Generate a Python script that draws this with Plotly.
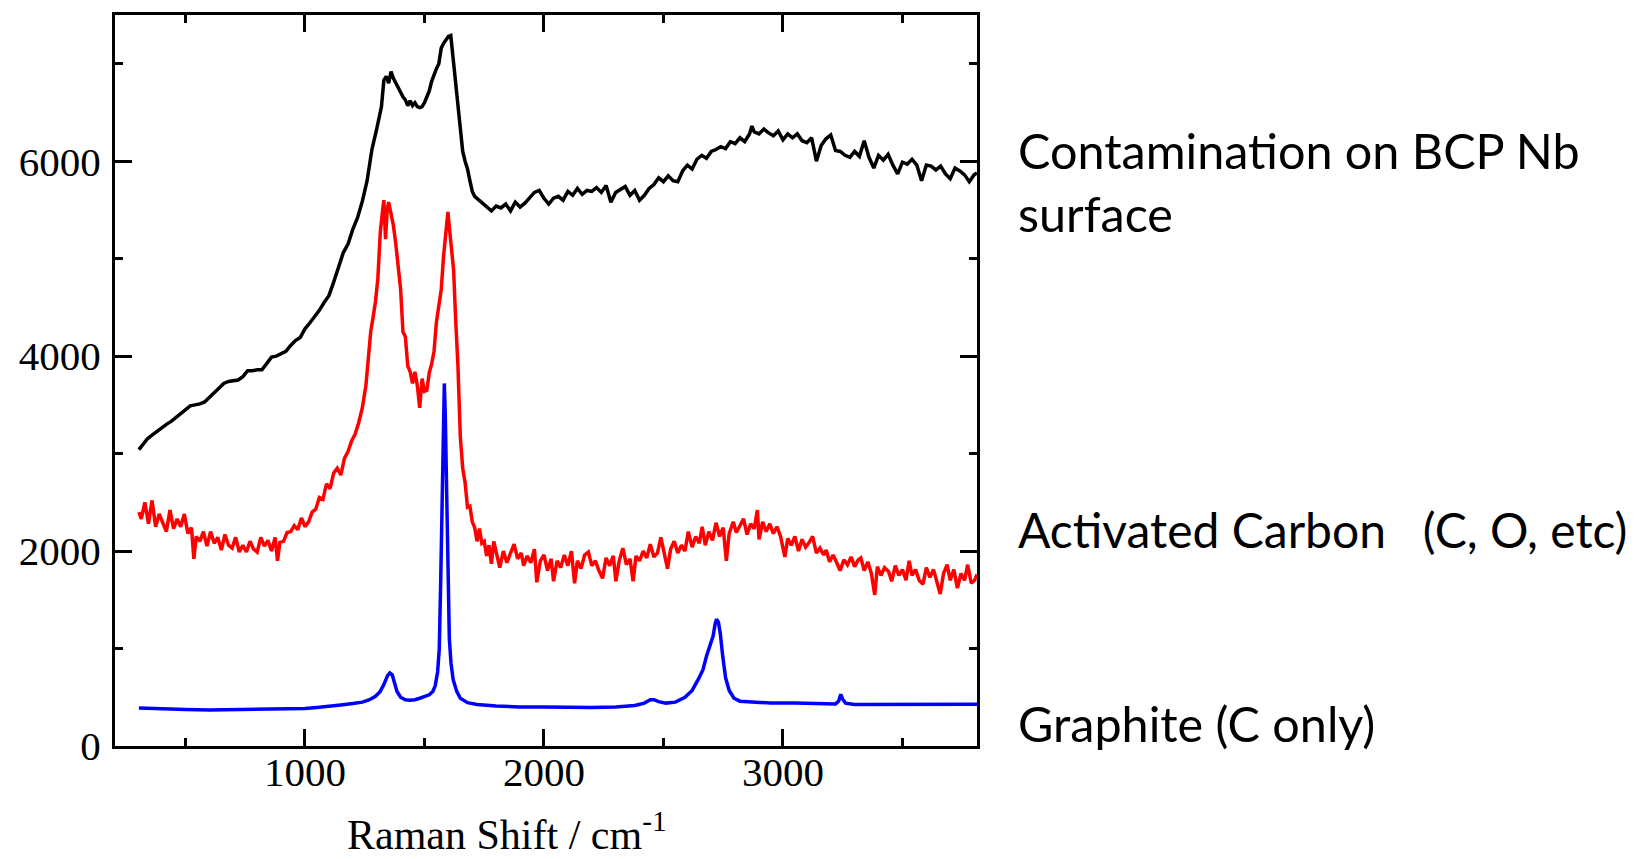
import plotly.graph_objects as go

# ---------------- data ----------------
black_x = [305, 320, 340, 360, 380, 400, 420, 440, 460, 480, 500, 520, 540, 560, 580, 600, 620, 640, 660, 680,
           700, 720, 740, 760, 780, 800, 820, 840, 860, 880, 900, 920, 940, 960, 980, 1000, 1020, 1040, 1060, 1080,
           1100, 1120, 1140, 1160, 1180, 1200, 1220, 1240, 1260, 1280, 1300, 1320, 1330, 1340, 1350, 1360, 1370, 1380, 1390, 1400,
           1410, 1420, 1430, 1440, 1450, 1460, 1470, 1480, 1490, 1500, 1510, 1520, 1530, 1540, 1550, 1560, 1570, 1580, 1590, 1600,
           1610, 1620, 1630, 1640, 1650, 1660, 1670, 1680, 1690, 1700, 1710, 1720, 1740, 1760, 1780, 1800, 1820, 1840, 1860, 1880,
           1900, 1920, 1940, 1960, 1980, 2000, 2020, 2040, 2060, 2080, 2100, 2120, 2140, 2160, 2180, 2200, 2220, 2240, 2260, 2280,
           2300, 2320, 2340, 2360, 2380, 2400, 2420, 2440, 2460, 2480, 2500, 2520, 2540, 2560, 2580, 2600, 2620, 2640, 2660, 2680,
           2700, 2720, 2740, 2760, 2780, 2800, 2820, 2840, 2860, 2870, 2880, 2900, 2920, 2940, 2960, 2980, 3000, 3020, 3040, 3060,
           3080, 3100, 3120, 3140, 3160, 3180, 3200, 3220, 3240, 3260, 3280, 3300, 3320, 3340, 3360, 3380, 3400, 3420, 3440, 3460,
           3480, 3500, 3520, 3540, 3560, 3580, 3600, 3620, 3640, 3660, 3680, 3700, 3720, 3740, 3760, 3780, 3800, 3812]
black_y = [3040, 3090, 3150, 3190, 3230, 3270, 3300, 3330, 3370, 3400, 3440, 3490, 3500, 3510, 3530, 3580, 3630, 3680, 3720, 3740,
           3750, 3755, 3790, 3850, 3850, 3860, 3860, 3930, 3990, 4000, 4030, 4050, 4110, 4160, 4190, 4280, 4340, 4400, 4470, 4550,
           4620, 4760, 4900, 5060, 5150, 5300, 5420, 5590, 5800, 6120, 6330, 6560, 6830, 6870, 6800, 6920, 6850, 6800, 6750, 6720,
           6660, 6630, 6570, 6620, 6570, 6600, 6560, 6550, 6560, 6600, 6650, 6720, 6820, 6890, 6950, 7000, 7160, 7210, 7240, 7280,
           7290, 7050, 6800, 6560, 6380, 6100, 6000, 5920, 5800, 5690, 5640, 5620, 5570, 5540, 5490, 5540, 5520, 5560, 5490, 5580,
           5530, 5570, 5620, 5680, 5700, 5620, 5560, 5620, 5640, 5600, 5690, 5650, 5720, 5660, 5700, 5690, 5730, 5680, 5750, 5580,
           5680, 5710, 5740, 5650, 5700, 5600, 5650, 5720, 5760, 5830, 5790, 5850, 5800, 5790, 5900, 5960, 5920, 6020, 6060, 6030,
           6100, 6120, 6150, 6130, 6200, 6180, 6240, 6200, 6280, 6360, 6300, 6280, 6330, 6290, 6260, 6310, 6220, 6280, 6240, 6280,
           6210, 6190, 6240, 6000, 6160, 6230, 6270, 6110, 6100, 6060, 6040, 6100, 6050, 6210, 6040, 5930, 6060, 6010, 6070, 5960,
           5870, 5990, 5970, 6020, 5960, 5800, 5960, 5950, 5910, 5950, 5870, 5820, 5930, 5900, 5860, 5790, 5860, 5880]

red_x = [305, 315, 330, 345, 360, 375, 390, 405, 420, 435, 450, 465, 480, 495, 510, 525, 535, 545, 560, 575,
         590, 605, 620, 635, 650, 665, 680, 695, 710, 725, 740, 755, 770, 785, 800, 815, 830, 845, 860, 875,
         885, 895, 910, 925, 940, 955, 970, 985, 1000, 1015, 1030, 1045, 1060, 1075, 1090, 1105, 1120, 1135, 1150, 1165,
         1180, 1195, 1210, 1225, 1240, 1255, 1265, 1275, 1285, 1295, 1305, 1315, 1325, 1330, 1337, 1344, 1350, 1360, 1370, 1380,
         1390, 1400, 1410, 1420, 1430, 1440, 1450, 1460, 1470, 1480, 1490, 1500, 1510, 1520, 1530, 1540, 1550, 1560, 1570, 1580,
         1590, 1598, 1607, 1615, 1622, 1630, 1640, 1650, 1660, 1670, 1680, 1690, 1700, 1710, 1720, 1730, 1740, 1750, 1760, 1770,
         1780, 1790, 1800, 1815, 1830, 1845, 1860, 1875, 1890, 1905, 1915, 1930, 1945, 1960, 1970, 1985, 2000, 2015, 2030, 2040,
         2055, 2070, 2085, 2100, 2115, 2128, 2140, 2155, 2170, 2186, 2200, 2215, 2230, 2245, 2260, 2275, 2290, 2301, 2315, 2330,
         2345, 2360, 2373, 2385, 2400, 2415, 2430, 2445, 2460, 2475, 2489, 2505, 2517, 2530, 2545, 2560, 2575, 2590, 2604, 2620,
         2635, 2650, 2662, 2675, 2690, 2705, 2720, 2735, 2750, 2763, 2775, 2792, 2805, 2820, 2835, 2850, 2865, 2880, 2893, 2900,
         2915, 2930, 2945, 2960, 2975, 2990, 3008, 3020, 3035, 3050, 3065, 3080, 3095, 3110, 3124, 3140, 3155, 3170, 3181, 3195,
         3210, 3225, 3239, 3255, 3270, 3285, 3300, 3315, 3326, 3340, 3355, 3370, 3384, 3395, 3410, 3425, 3442, 3455, 3470, 3485,
         3500, 3515, 3528, 3540, 3555, 3570, 3586, 3600, 3615, 3630, 3645, 3658, 3672, 3687, 3700, 3715, 3730, 3745, 3760, 3773,
         3788, 3802, 3812]
red_y = [2400, 2330, 2500, 2280, 2520, 2250, 2380, 2300, 2200, 2420, 2230, 2330, 2250, 2380, 2180, 2240, 1920, 2150, 2100, 2200,
         2050, 2200, 2080, 2140, 2010, 2170, 2060, 2030, 2140, 1990, 2060, 1990, 2100, 2020, 1990, 2140, 2050, 2110, 2000, 2140,
         1900, 2090, 2100, 2190, 2200, 2260, 2220, 2340, 2250, 2300, 2400, 2430, 2550, 2530, 2690, 2640, 2800, 2850, 2780, 2950,
         3020, 3130, 3200, 3320, 3470, 3700, 4000, 4250, 4400, 4560, 4800, 5270, 5500, 5600, 5200, 5500, 5580, 5450, 5340, 5150,
         4900, 4690, 4250, 4200, 3900, 3840, 3720, 3840, 3700, 3470, 3770, 3640, 3650, 3830, 3920, 4050, 4350, 4500, 4680, 5030,
         5300, 5480, 5250, 5050, 4880, 4400, 3900, 3170, 2850, 2700, 2450, 2460, 2300, 2240, 2100, 2230, 2080, 2100, 1950, 2060,
         1870, 2100, 1980, 1830, 2000, 1880, 1980, 2070, 1920, 1980, 1850, 1950, 1880, 2020, 1680, 1900, 1960, 1800, 1920, 1690,
         1900, 1830, 1960, 1850, 2000, 1670, 1900, 1820, 1960, 1990, 1850, 1900, 1800, 1720, 1930, 1850, 1950, 1690, 1900, 2030,
         1860, 1920, 1690, 1950, 1900, 2000, 1930, 2070, 1940, 1980, 2140, 1940, 1820, 2020, 2100, 1980, 2060, 2000, 2200, 2040,
         2150, 2080, 2250, 2060, 2200, 2110, 2290, 2150, 2240, 1900, 2180, 2300, 2190, 2260, 2330, 2170, 2280, 2230, 2420, 2120,
         2300, 2200, 2280, 2180, 2250, 2150, 1940, 2130, 2060, 2150, 2000, 2120, 2040, 2090, 2150, 1980, 2030, 1960, 2010, 1890,
         1960, 1880, 1800, 1910, 1860, 1940, 1840, 1910, 1930, 1800, 1890, 1770, 1550, 1840, 1750, 1830, 1790, 1690, 1850, 1750,
         1810, 1700, 1900, 1750, 1810, 1700, 1660, 1830, 1730, 1810, 1670, 1560, 1770, 1860, 1700, 1810, 1620, 1770, 1700, 1860,
         1670, 1700, 1760]

blue_x = [305, 400, 500, 600, 700, 800, 900, 1000, 1050, 1100, 1150, 1200, 1240, 1270, 1295, 1315, 1330, 1345, 1355, 1365,
          1375, 1385, 1400, 1420, 1440, 1460, 1480, 1500, 1520, 1535, 1545, 1555, 1562, 1568, 1574, 1579, 1583, 1587, 1592, 1598,
          1604, 1611, 1620, 1635, 1650, 1680, 1720, 1800, 1900, 2000, 2100, 2200, 2300, 2380, 2420, 2445, 2460, 2480, 2510, 2550,
          2590, 2620, 2645, 2665, 2680, 2695, 2708, 2716, 2722, 2730, 2738, 2748, 2760, 2775, 2795, 2820, 2870, 2950, 3050, 3150,
          3220, 3233, 3242, 3250, 3262, 3300, 3400, 3500, 3600, 3700, 3812]
blue_y = [390, 380, 375, 370, 372, 375, 378, 385, 395, 405, 420, 435, 450, 475, 510, 560, 630, 720, 750, 730,
          650, 560, 500, 475, 470, 475, 490, 505, 525, 560, 620, 760, 1000, 1700, 2600, 3400, 3720, 3400, 2600, 1700,
          1100, 850, 680, 560, 490, 445, 425, 410, 400, 400, 395, 395, 400, 415, 440, 475, 475, 455, 440, 450,
          500, 570, 680, 780, 920, 1050, 1130, 1250, 1300, 1270, 1150, 920, 700, 570, 490, 460, 450, 440, 440, 432,
          432, 460, 530, 480, 440, 425, 425, 428, 426, 428, 428]

label_texts = ["Contamination on BCP Nb<br>surface",
               "Activated Carbon\u00a0\u00a0\u00a0(C, O, etc)",
               "Graphite (C only)"]
x_title = "Raman Shift / cm<sup>-1</sup>"

# ---------------- layout geometry (pixels) ----------------
W, H = 1641, 859
L, R, T, B = 115, 977, 12, 746   # plot area edges in pixels


def px_to_paper(px, py):
    return (px - L) / (R - L), (B - py) / (B - T)


fig = go.Figure()
fig.add_trace(go.Scatter(x=black_x, y=black_y, mode="lines",
                         line=dict(color="#000000", width=3.5), showlegend=False))
fig.add_trace(go.Scatter(x=red_x, y=red_y, mode="lines",
                         line=dict(color="#FF0000", width=3.5), showlegend=False))
fig.add_trace(go.Scatter(x=blue_x, y=blue_y, mode="lines",
                         line=dict(color="#0000FF", width=3.5), showlegend=False))

tickfont = dict(family="Liberation Serif", size=41, color="#000000")
axis_common = dict(showline=True, linewidth=3, linecolor="#000000", mirror="ticks",
                   ticks="inside", ticklen=17, tickwidth=3, tickcolor="#000000",
                   showgrid=False, zeroline=False, tickfont=tickfont)

fig.update_xaxes(range=[205, 3812], dtick=1000, tick0=0, ticklabelstandoff=-12,
                 minor=dict(dtick=500, tick0=0, ticks="inside", ticklen=8, tickwidth=3, tickcolor="#000000"),
                 **axis_common)
fig.update_yaxes(range=[0, 7500], dtick=2000, tick0=0, ticklabelstandoff=3,
                 minor=dict(dtick=1000, tick0=0, ticks="inside", ticklen=8, tickwidth=3, tickcolor="#000000"),
                 **axis_common)

annots = []
tx, ty = px_to_paper(507, 832)
annots.append(dict(text=x_title, x=tx, y=ty, xref="paper", yref="paper", showarrow=False,
                   xanchor="center", yanchor="middle",
                   font=dict(family="Liberation Serif", size=42, color="#000000")))
label_pos = [(1016, 179), (1016, 529), (1016, 723)]
label_sizes = [48.5, 48, 48.5]
for txt, (lx, ly), fs in zip(label_texts, label_pos, label_sizes):
    ax_, ay_ = px_to_paper(lx, ly)
    annots.append(dict(text=txt, x=ax_, y=ay_, xref="paper", yref="paper", showarrow=False,
                       xanchor="left", yanchor="middle", align="left",
                       font=dict(family="Lato", size=fs, color="#000000")))

fig.update_layout(width=W, height=H, margin=dict(l=L, r=W - R, t=T, b=H - B, pad=0),
                  paper_bgcolor="#FFFFFF", plot_bgcolor="#FFFFFF", annotations=annots,
                  showlegend=False)

fig.write_html("out.html")
